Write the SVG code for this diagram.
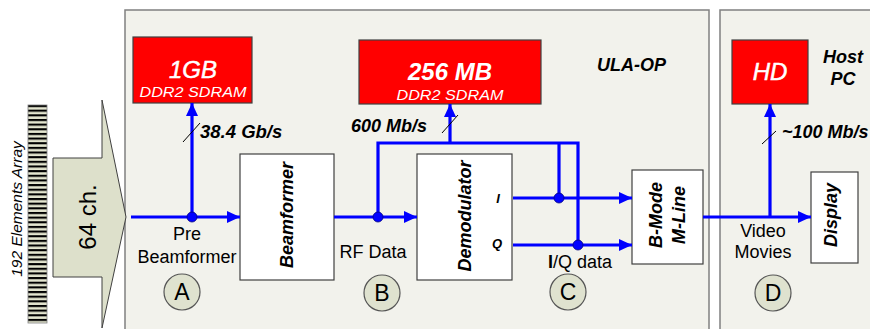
<svg xmlns="http://www.w3.org/2000/svg" width="870" height="329" viewBox="0 0 870 329">
<defs>
<style>
.panel{fill:#F2F2EC;stroke:#808080;stroke-width:1.5}
.mem{fill:#FF0000;stroke:#404040;stroke-width:1.2}
.box{fill:#FFFFFF;stroke:#404040;stroke-width:1.2}
.circ{fill:#DFE2CF;stroke:#555555;stroke-width:1.2}
.wire{fill:none;stroke:#0000FF;stroke-width:3.2}
.slash{stroke:#000;stroke-width:1}
.dot{fill:#0000FF;stroke:#00007F;stroke-width:0.8}
text{font-family:"Liberation Sans",Arial,sans-serif}
.w{fill:#FFFFFF;font-style:italic}
.bi{font-weight:bold;font-style:italic;fill:#000}
.r{fill:#000;font-size:18px}
</style>
<marker id="ah" markerUnits="userSpaceOnUse" markerWidth="13" markerHeight="12" refX="13" refY="6" orient="auto">
<path d="M0,0 L13,6 L0,12 Z" fill="#0000FF"/>
</marker>
<pattern id="stripes" patternUnits="userSpaceOnUse" x="0" y="105" width="20" height="4.65">
<rect x="0" y="0" width="20" height="4.65" fill="#E4E6D0"/>
<rect x="0" y="0" width="20" height="2.1" fill="#000000"/>
</pattern>
</defs>

<g id="ula-op-panel">
<rect class="panel" x="125" y="10" width="584" height="330"/>
<text class="bi" x="597" y="71" font-size="18">ULA-OP</text>
</g>
<g id="host-pc-panel">
<rect class="panel" x="720" y="10" width="160" height="330"/>
<text class="bi" x="843" y="63" font-size="18" text-anchor="middle">Host</text>
<text class="bi" x="843" y="85" font-size="18" text-anchor="middle">PC</text>
</g>

<g id="array">
<rect x="28" y="105" width="19" height="218" fill="url(#stripes)" stroke="#808080" stroke-width="0.8"/>
<text transform="translate(22,209) rotate(-90)" font-size="15.5" font-style="italic" fill="#000" text-anchor="middle">192 Elements Array</text>
</g>

<g id="channels">
<path d="M53,158 L102,158 L102,100 L126,217 L102,328 L102,277 L53,277 Z" fill="#DDE0CB" stroke="#404040" stroke-width="1"/>
<text transform="translate(96,217) rotate(-90)" font-size="24" fill="#000" text-anchor="middle">64 ch.</text>
</g>

<g id="mem-1gb">
<rect class="mem" x="133" y="37" width="119" height="66"/>
<text class="w" x="193" y="78" font-size="24" text-anchor="middle" stroke="#FFFFFF" stroke-width="0.5">1GB</text>
<text class="w" x="193" y="97" font-size="15" text-anchor="middle" textLength="107" lengthAdjust="spacingAndGlyphs">DDR2 SDRAM</text>
</g>

<g id="mem-256mb">
<rect class="mem" x="359" y="40" width="182" height="64"/>
<text class="w" x="450" y="80" font-size="24" font-weight="bold" text-anchor="middle">256 MB</text>
<text class="w" x="450" y="100" font-size="15" text-anchor="middle" textLength="107" lengthAdjust="spacingAndGlyphs">DDR2 SDRAM</text>
</g>

<g id="hd">
<rect class="mem" x="732" y="40" width="76" height="64"/>
<text class="w" x="770" y="80" font-size="24" text-anchor="middle" stroke="#FFFFFF" stroke-width="0.5">HD</text>
</g>

<g id="beamformer">
<rect class="box" x="240" y="154" width="94" height="126"/>
<text class="bi" transform="translate(293,215) rotate(-90)" font-size="18" text-anchor="middle">Beamformer</text>
</g>

<g id="demodulator">
<rect class="box" x="417" y="154" width="95" height="126"/>
<text class="bi" transform="translate(471,216) rotate(-90)" font-size="18" text-anchor="middle">Demodulator</text>
<text class="bi" x="498" y="203" font-size="13" text-anchor="middle">I</text>
<text class="bi" x="497" y="248" font-size="13" text-anchor="middle">Q</text>
</g>

<g id="bmode">
<rect class="box" x="632" y="170" width="71" height="94"/>
<text class="bi" transform="translate(662,215) rotate(-90)" font-size="18" text-anchor="middle">B-Mode</text>
<text class="bi" transform="translate(685,215) rotate(-90)" font-size="18" text-anchor="middle">M-Line</text>
</g>

<g id="display">
<rect class="box" x="811" y="172" width="47" height="91"/>
<text class="bi" transform="translate(837,215) rotate(-90)" font-size="18" text-anchor="middle">Display</text>
</g>

<g id="connectors">
<path class="wire" d="M131,217 L240,217" marker-end="url(#ah)"/>
<path class="wire" d="M192,217 L192,103" marker-end="url(#ah)"/>
<path class="wire" d="M334,217 L417,217" marker-end="url(#ah)"/>
<path class="wire" d="M378,217 L378,143 L578,143 L578,245"/>
<path class="wire" d="M559,143 L559,198"/>
<path class="wire" d="M450,143 L450,104" marker-end="url(#ah)"/>
<path class="wire" d="M513,198 L632,198" marker-end="url(#ah)"/>
<path class="wire" d="M513,245 L632,245" marker-end="url(#ah)"/>
<path class="wire" d="M703,217 L811,217" marker-end="url(#ah)"/>
<path class="wire" d="M770,217 L770,104" marker-end="url(#ah)"/>
<circle class="dot" cx="192" cy="217" r="5"/>
<circle class="dot" cx="378" cy="217" r="5"/>
<circle class="dot" cx="559" cy="198" r="5"/>
<circle class="dot" cx="578" cy="245" r="5"/>
<line class="slash" x1="183" y1="142" x2="200" y2="123"/>
<line class="slash" x1="442" y1="133" x2="458" y2="115"/>
<line class="slash" x1="762" y1="144" x2="776" y2="131"/>
</g>

<g id="labels">
<text class="bi" x="200" y="138" font-size="18.5">38.4 Gb/s</text>
<text class="bi" x="351" y="132" font-size="18">600 Mb/s</text>
<text class="bi" x="782" y="138" font-size="18">~100 Mb/s</text>
<text class="r" x="187" y="240" text-anchor="middle">Pre</text>
<text class="r" x="187" y="263" text-anchor="middle">Beamformer</text>
<text class="r" x="373" y="258" text-anchor="middle">RF Data</text>
<text class="r" x="548" y="268"><tspan font-weight="bold">I</tspan>/Q data</text>
<text class="r" x="763" y="237" text-anchor="middle">Video</text>
<text class="r" x="763" y="258" text-anchor="middle">Movies</text>
</g>

<g id="stage-a">
<circle class="circ" cx="182" cy="292" r="18"/>
<text x="182" y="300" font-size="23" fill="#000" text-anchor="middle">A</text>
</g>
<g id="stage-b">
<circle class="circ" cx="382" cy="293" r="18"/>
<text x="382" y="301" font-size="23" fill="#000" text-anchor="middle">B</text>
</g>
<g id="stage-c">
<circle class="circ" cx="568" cy="292" r="18"/>
<text x="568" y="300" font-size="23" fill="#000" text-anchor="middle">C</text>
</g>
<g id="stage-d">
<circle class="circ" cx="773" cy="293" r="18"/>
<text x="773" y="301" font-size="23" fill="#000" text-anchor="middle">D</text>
</g>
</svg>
